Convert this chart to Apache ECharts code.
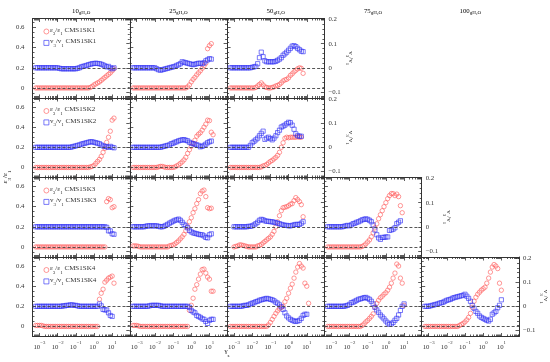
<!DOCTYPE html>
<html><head><meta charset="utf-8">
<script src="https://cdn.jsdelivr.net/npm/echarts@6/dist/echarts.min.js"></script>
<style>html,body{margin:0;padding:0;background:#fff}#c{width:550px;height:362px}</style>
</head><body><div id="c"></div>
<script>
// ---------- data ----------
const GAMMA = [0.0005, 0.00063, 0.00079, 0.001,
  0.00126, 0.00158, 0.002, 0.0025, 0.00316, 0.00398, 0.005, 0.0063, 0.0079, 0.01,
  0.0126, 0.0158, 0.02, 0.025, 0.0316, 0.0398, 0.05, 0.063, 0.079, 0.1,
  0.126, 0.158, 0.2, 0.25, 0.316, 0.398, 0.5, 0.63, 0.79, 1,
  1.26, 1.58, 2, 2.5, 3.16, 3.98, 5, 6.3, 7.9, 10,
  12.6, 15.8];
const COLUMNS = ['10', '25', '50', '75', '100'];
const SAMPLES = ['CMS1SK1', 'CMS1SK2', 'CMS1SK3', 'CMS1SK4'];
const X_TICKS = [0.001, 0.01, 0.1, 1, 10];
const Y_LEFT_TICKS = [0, 0.2, 0.4, 0.6];
const Y_RIGHT_TICKS = [-0.1, 0, 0.1, 0.2];
const REF_LINES = [0, 0.2];

// eps3/eps1 (left axis) and v3/v1 (right axis)
const EPS_SK1_10 = [null,0,0,0, 0,0,0,0,0,0,0,0,0,0, 0,0,0,0,0,0,0,0,0,0, 0,0,0,0,0,0,0,0.005,0.015,0.03, 0.04,0.05,0.06,0.075,0.09,0.105,0.12,0.135,0.15,0.17, 0.19,null];
const V_SK1_10 = [null,0,0,0, 0,0,0,0,0,0,0,0,0,0, -0.002,-0.004,-0.004,-0.004,-0.004,-0.004,-0.004,-0.004,-0.004,-0.004, -0.002,0,0.004,0.006,0.008,0.010,0.013,0.015,0.017,0.018, 0.019,0.018,0.017,0.015,0.012,0.008,0.004,0.006,0,-0.004, 0,null];
const EPS_SK1_25 = [null,0,0,0, 0,0,0,0,0,0,0,0,0,0, 0,0,0,0,0,0,0,0,0,0, 0,0,0,0,0,0,0,0.01,0.03,0.06, 0.085,0.105,0.13,0.15,0.17,0.195,0.22,0.245,0.39,0.42, 0.44,null];
const V_SK1_25 = [null,0,0,0, 0,0,0,0,0,0,0,0,0,0, -0.004,-0.008,-0.010,-0.008,-0.006,-0.004,-0.002,0,0.002,0.004, 0.006,0.010,0.013,0.017,0.025,0.023,0.021,0.019,0.017,0.015, 0.013,0.015,0.017,0.019,0.019,0.017,0.021,0.029,0.033,0.038, 0.036,null];
const EPS_SK1_50 = [null,0,0,0, 0,0,0,0,0,0,0,0,0,0, 0,0.005,0.02,0.035,0.05,0.03,0.01,0.005,0,0, 0.005,0.01,0.02,0.025,0.035,0.05,0.07,0.08,0.085,0.1, 0.125,0.14,0.16,0.175,0.19,0.2,0.195,0.145,null,null, null,null];
const V_SK1_50 = [null,0,0,0, 0,0,0,0,0,0,0,0,0,0.002, 0.004,0.006,0.017,0.042,0.065,0.046,0.029,0.025,0.025,0.025, 0.025,0.025,0.027,0.031,0.036,0.042,0.052,0.058,0.065,0.073, 0.081,0.090,0.092,0.088,0.081,0.075,0.069,0.067,null,null, null,null];

const EPS_SK2_10 = [null,0,0,0, 0,0,0,0,0,0,0,0,0,0, 0,0,0,0,0,0,0,0,0,0, 0,0,0,0,0,0,0,0.005,0.01,0.02, 0.04,0.06,0.08,0.11,0.15,0.19,0.25,0.3,0.36,0.47, 0.49,null];
const V_SK2_10 = [null,0,0,0, 0,0,0,0,0,0,0,0,0,0, 0,0,0,0,0,0,0,0.002,0.004,0.006, 0.008,0.010,0.013,0.015,0.017,0.019,0.021,0.023,0.023,0.021, 0.019,0.017,0.015,0.010,0.006,0.004,0.002,0,0.004,0, -0.002,null];
const EPS_SK2_25 = [null,0,0,0, 0,0,0,0,0,0,0,0,0,0, 0,0.005,0.01,0.01,0.005,0,0,0,0,0, 0.005,0.015,0.025,0.04,0.055,0.075,0.1,0.14,0.175,0.21, 0.24,0.27,0.31,0.33,0.345,0.37,0.4,0.43,0.47,0.465, 0.35,0.325];
const V_SK2_25 = [null,0,0,0, 0,0,0,0,0,0,0,0,0,0, 0,0,0,0.002,0.004,0.006,0.008,0.010,0.015,0.017, 0.021,0.023,0.027,0.029,0.031,0.032,0.029,0.027,0.021,0.017, 0.015,0.013,0.010,0.008,0.002,0.004,0.008,0.013,0.019,0.023, 0.026,null];
const EPS_SK2_50 = [null,0,0,0, 0,0,0,0,0,0,0,0,0,0, 0,0,0,0,0.005,0.015,0.02,0.03,0.045,0.06, 0.07,0.085,0.1,0.12,0.15,0.2,0.245,0.29,0.3,0.295, 0.3,0.3,0.3,0.3,0.305,0.3,0.3,null,null,null, null,null];
const V_SK2_50 = [null,0,0,0, 0,0,0,0,0,0,0,0,0.008,0.019, 0.025,0.031,0.038,0.048,0.058,0.067,0.033,0.038,0.042,0.036, 0.031,0.038,0.048,0.061,0.071,0.084,0.088,0.092,0.098,0.104, 0.102,0.092,0.075,0.056,0.048,0.046,0.046,null,null,null, null,null];

const EPS_SK3_10 = [null,0,0,0, 0,0,0,0,0,0,0,0,0,0, 0,0,0,0,0,0,0,0,0,0, 0,0,0,0,0,0,0,0,0,0, 0,0,0,0,0,0,0.45,0.48,0.47,0.39, 0.4,null];
const V_SK3_10 = [null,0,0,0, 0,0,0,0,0,0,0,0,0,0, 0,0,0,0,0,0,0,0,0,0, 0,0,0,0,0,0,0,0,0,0, 0,0,0,0,0,0,-0.002,-0.017,-0.017,-0.029, -0.031,null];
const EPS_SK3_25 = [null,0.01,0.01,0.01, 0.005,0,0,0,0,0,0,0,0,0, 0,0,0,0,0,0,0,0.01,0.015,0.02, 0.03,0.045,0.06,0.08,0.1,0.125,0.16,0.2,0.25,0.29, 0.34,0.38,0.43,0.47,0.53,0.555,0.565,0.5,0.39,0.38, 0.385,null];
const V_SK3_25 = [null,0,0,0, 0,0,0,0,0.002,0.004,0.004,0.004,0.004,0.004, 0.004,0.002,0,0,0.002,0.006,0.010,0.015,0.019,0.023, 0.027,0.029,0.032,0.027,0.019,0.010,0.004,-0.004,-0.015,-0.021, -0.025,-0.027,-0.029,-0.031,-0.033,-0.033,-0.038,-0.044,-0.046,-0.033, -0.029,null];
const EPS_SK3_50 = [null,null,null,0, 0.005,0.01,0.02,0.02,0.015,0.01,0.005,0,0,0, 0,0,0.01,0.015,0.025,0.04,0.055,0.07,0.085,0.1, 0.125,0.155,0.2,0.25,0.31,0.36,0.39,0.395,0.4,0.41, 0.425,0.43,0.46,0.49,0.47,0.45,0.42,0.3,null,null, null,null];
const V_SK3_50 = [null,null,null,0, 0,0,0,0,0,0,0,0.002,0.002,0.004, 0.008,0.013,0.019,0.027,0.031,0.029,0.025,0.023,0.023,0.021, 0.021,0.019,0.017,0.015,0.013,0.010,0.008,0.006,0.006,0.004, 0.004,0.006,0.008,0.010,0.010,0.010,0.015,0.021,null,null, null,null];
const EPS_SK3_75 = [null,0,0,0, 0,0,0,0,0,0,0,0,0,0, 0,0,0,0,0,0,0.005,0.015,0.03,0.05, 0.07,0.1,0.14,0.19,0.23,0.28,0.32,0.36,0.4,0.44, 0.48,0.51,0.53,0.53,0.51,0.525,0.5,0.41,0.34,null, null,null];
const V_SK3_75 = [null,0,0,0, 0,0,0,0,0,0,0.002,0.004,0.006,0.004, 0.008,0.013,0.015,0.019,0.021,0.025,0.029,0.031,0.033,0.031, 0.027,0.021,0.008,-0.013,-0.033,-0.046,-0.052,-0.044,-0.044,-0.042, -0.042,-0.015,-0.013,-0.010,-0.004,0.013,0.019,0.025,null,null, null,null];

const EPS_SK4_10 = [null,0.01,0.01,0.01, 0.01,0.005,0,0,0,0,0,0,0,0, 0,0,0,0,0,0,0,0,0,0, 0,0,0,0,0,0,0,0,0,0, 0,0,0.27,0.33,0.37,0.44,0.46,0.48,0.49,0.5, 0.43,null];
const V_SK4_10 = [null,0,0,0, 0,0,0,0,0,0,0,0,0,0, 0,0,0.002,0.002,0.004,0.004,0.006,0.006,0.004,0.004, 0.002,0,0,0,0,0,0,0,0,0, 0,0,0.010,0.002,-0.013,-0.015,-0.015,-0.027,-0.038,-0.042, null,null];
const EPS_SK4_25 = [null,0.01,0.01,0.01, 0.005,0,0,0,0,0,0,0,0,0, 0,0,0,0,0,0,0,0,0,0, 0,0,0,0,0,0,0,0,0.16,0.21, 0.28,0.37,0.415,0.47,0.52,0.565,0.57,0.53,0.49,0.47, 0.35,0.35];
const V_SK4_25 = [null,0,0,0, 0,0,0,0,0,0,0.002,0.004,0.004,0.004, 0.004,0.004,0.002,0,0,0,0,0,0,0, 0,0,0,0,0,0,0,0,-0.004,-0.017, -0.023,-0.027,-0.038,-0.042,-0.046,-0.052,-0.054,-0.063,-0.071,-0.058, -0.054,-0.054];
const EPS_SK4_50 = [null,0,0,0, 0,0,0,0,0,0,0,0,0,0, 0,0,0,0,0,0,0,0,0.015,0.04, 0.07,0.1,0.13,0.155,0.175,0.19,0.2,0.245,0.28,0.33, 0.38,0.42,0.48,0.54,0.59,0.625,0.6,0.58,0.43,0.4, 0.23,null];
const V_SK4_50 = [null,0,0,0, 0,0,0,0,0.002,0.004,0.004,0.006,0.010,0.013, 0.015,0.019,0.021,0.025,0.027,0.029,0.031,0.033,0.031,0.029, 0.027,0.023,0.017,0.013,0.006,-0.002,-0.013,-0.027,-0.040,-0.048, -0.054,-0.058,-0.061,-0.063,-0.061,-0.058,-0.050,-0.038,-0.033,-0.033, null,null];
const EPS_SK4_75 = [null,0,0,0, 0,0,0,0,0,0,0,0,0,0, 0,0,0,0,0,0,0.01,0.025,0.045,0.06, 0.08,0.1,0.125,0.19,0.23,0.26,0.285,0.3,0.32,0.335, 0.36,0.39,0.43,0.48,0.53,0.62,0.6,0.48,0.43,0.21, null,null];
const V_SK4_75 = [null,0,0,0, 0,0,0,0,0,0,0,0.002,0.004,0.008, 0.015,0.017,0.021,0.025,0.029,0.031,0.033,0.036,0.037,0.033, 0.029,0.021,0.010,-0.004,-0.015,-0.025,-0.036,-0.044,-0.052,-0.061, -0.069,-0.075,-0.073,-0.067,-0.058,-0.050,-0.036,-0.017,0,0.010, null,null];
const EPS_SK4_100 = [null,0,0,0, 0,0,0,0,0,0,0,0,0,0, 0,0,0,0,0,0,0.01,0.02,0.03,0.045, 0.065,0.09,0.13,0.19,0.25,0.29,0.32,0.34,0.36,0.375, 0.39,0.43,0.48,0.54,0.59,0.615,0.6,0.575,0.43,0.36, null,null];
const V_SK4_100 = [null,0,0,0, 0.002,0.004,0.006,0.008,0.010,0.013,0.015,0.017,0.021,0.025, 0.027,0.029,0.033,0.036,0.038,0.040,0.042,0.044,0.046,0.050, 0.042,0.033,0.021,0.004,-0.008,-0.021,-0.029,-0.040,-0.046,-0.050, -0.054,-0.058,-0.061,-0.054,-0.033,-0.027,-0.021,-0.006,0.004,0.027, null,null];

const PANELS = [
  {row:0, col:0, eps:EPS_SK1_10, v:V_SK1_10},
  {row:0, col:1, eps:EPS_SK1_25, v:V_SK1_25},
  {row:0, col:2, eps:EPS_SK1_50, v:V_SK1_50},
  {row:1, col:0, eps:EPS_SK2_10, v:V_SK2_10},
  {row:1, col:1, eps:EPS_SK2_25, v:V_SK2_25},
  {row:1, col:2, eps:EPS_SK2_50, v:V_SK2_50},
  {row:2, col:0, eps:EPS_SK3_10, v:V_SK3_10},
  {row:2, col:1, eps:EPS_SK3_25, v:V_SK3_25},
  {row:2, col:2, eps:EPS_SK3_50, v:V_SK3_50},
  {row:2, col:3, eps:EPS_SK3_75, v:V_SK3_75},
  {row:3, col:0, eps:EPS_SK4_10, v:V_SK4_10},
  {row:3, col:1, eps:EPS_SK4_25, v:V_SK4_25},
  {row:3, col:2, eps:EPS_SK4_50, v:V_SK4_50},
  {row:3, col:3, eps:EPS_SK4_75, v:V_SK4_75},
  {row:3, col:4, eps:EPS_SK4_100, v:V_SK4_100}
];

// ---------- layout / style ----------
const FONT = 'Liberation Serif';
const RED = '#ff5c5c', BLUE = '#2f2ff4', INK = '#333333';
const COL_LEFT = [32.5, 129.8, 227.1, 324.4, 421.7];
const ROW_TOP = [18.5, 98, 177.5, 257];
const PW = 97.3, PH = 79.5;
const X_RANGE = [0.000417, 93.3];
const YL_RANGE = [-0.1, 0.69];
const YR_RANGE = [-0.1253, 0.2047];
const LAST_COL = [2, 2, 3, 4];

const xMinor = [];
for (let e = -4; e <= 1; e++) for (let m = 2; m <= 9; m++) {
  const t = +(m * Math.pow(10, e)).toPrecision(3);
  if (t > X_RANGE[0] && t < X_RANGE[1]) xMinor.push(t);
}
const ylMinor = [];
for (let i = -2; i <= 13; i++) { const t = +(i * 0.05).toFixed(2); if (i % 4 !== 0) ylMinor.push(t); }
const yrMinor = [];
for (let i = -6; i <= 10; i++) { const t = +(i * 0.02).toFixed(2); if (i % 5 !== 0) yrMinor.push(t); }

const txt = (size, extra) => Object.assign({fontFamily: FONT, fontSize: size, color: INK}, extra || {});
const RICH = {
  g: txt(7, {lineHeight: 10, verticalAlign: 'top'}),
  sub: txt(5, {lineHeight: 4, verticalAlign: 'bottom'}),
  b: txt(6.8, {lineHeight: 10, verticalAlign: 'bottom'}),
  sup: txt(4.8, {lineHeight: 4, verticalAlign: 'top'})
};
const line = {show: true, onZero: false, lineStyle: {color: INK, width: 1}};
const noLine = {show: false, onZero: false};
const TICK_FONT = {fontFamily: FONT, fontSize: 6.8, color: INK};

const grids = [], xAxes = [], yAxes = [], series = [];
PANELS.forEach((p, k) => {
  grids.push({left: COL_LEFT[p.col], top: ROW_TOP[p.row], width: PW, height: PH, show: false, outerBoundsMode: 'none'});
  const bottomRow = p.row === 3;
  const isLast = LAST_COL[p.row] === p.col;
  ['bottom', 'top'].forEach(pos => {
    [true, false].forEach(major => {
      xAxes.push({
        gridIndex: k, type: 'log', logBase: 10, min: X_RANGE[0], max: X_RANGE[1], position: pos,
        axisLine: major ? line : noLine,
        axisTick: {show: true, inside: true, length: major ? 3.5 : 2, customValues: major ? X_TICKS : xMinor, lineStyle: {color: INK, width: 0.8}},
        axisLabel: {show: major && pos === 'bottom' && bottomRow, customValues: X_TICKS, margin: 4,
          formatter: v => { const e = Math.round(Math.log10(v)); return '{b|10}{sup|' + (e < 0 ? '−' + (-e) : e) + '}'; },
          rich: RICH},
        splitLine: {show: false}, silent: true
      });
    });
  });
  [true, false].forEach(major => {
    yAxes.push({
      gridIndex: k, type: 'value', min: YL_RANGE[0], max: YL_RANGE[1], position: 'left',
      axisLine: major ? line : noLine,
      axisTick: {show: true, inside: true, length: major ? 3.5 : 2, customValues: major ? Y_LEFT_TICKS : ylMinor, lineStyle: {color: INK, width: 0.8}},
      axisLabel: Object.assign({show: major && p.col === 0, customValues: Y_LEFT_TICKS, margin: 8,
        formatter: v => String(v)}, TICK_FONT),
      splitLine: {show: false}, silent: true
    });
  });
  [true, false].forEach(major => {
    const ax = {
      gridIndex: k, type: 'value', min: YR_RANGE[0], max: YR_RANGE[1], position: 'right',
      axisLine: major ? line : noLine,
      axisTick: {show: true, inside: true, length: major ? 3.5 : 2, customValues: major ? Y_RIGHT_TICKS : yrMinor, lineStyle: {color: INK, width: 0.8}},
      axisLabel: Object.assign({show: major && isLast, customValues: Y_RIGHT_TICKS, margin: 4,
        formatter: v => v < 0 ? '−' + Math.abs(v) : String(v)}, TICK_FONT),
      splitLine: {show: false}, silent: true
    };
    if (major && isLast) {
      ax.name = '{g|v}{sub|3}{g|/v}{sub|1}';
      ax.nameLocation = 'middle'; ax.nameRotate = -90; ax.nameGap = 14;
      ax.nameTextStyle = {rich: RICH};
    }
    yAxes.push(ax);
  });
  const pairs = arr => GAMMA.map((g, i) => arr[i] == null ? null : [g, arr[i]]).filter(d => d);
  series.push({
    type: 'scatter', name: 'ε3/ε1 ' + SAMPLES[p.row], xAxisIndex: 4 * k, yAxisIndex: 4 * k,
    symbol: 'circle', symbolSize: 4.4, data: pairs(p.eps),
    itemStyle: {color: 'rgba(255,255,255,0)', borderColor: RED, borderWidth: 0.8},
    emphasis: {disabled: true}, silent: true,
    markLine: {silent: true, symbol: 'none', animation: false, label: {show: false},
      lineStyle: {color: '#444', type: [3, 2], width: 0.9},
      data: REF_LINES.map(y => ({yAxis: y}))}
  });
  series.push({
    type: 'scatter', name: 'v3/v1 ' + SAMPLES[p.row], xAxisIndex: 4 * k, yAxisIndex: 4 * k + 2,
    symbol: 'rect', symbolSize: 4.2, data: pairs(p.v),
    itemStyle: {color: 'rgba(255,255,255,0)', borderColor: BLUE, borderWidth: 0.8},
    emphasis: {disabled: true}, silent: true
  });
});

const legendFmt = name => {
  const parts = name.split(' ');
  const c = parts[0][0];
  return '{g|' + c + '}{sub|3}{g|/' + c + '}{sub|1}{g| ' + parts[1] + '}';
};
const legends = ROW_TOP.map((t, r) => ({
  orient: 'vertical', left: COL_LEFT[0] + 6, top: t + 3, itemWidth: 5, itemHeight: 5, itemGap: 1.4,
  selectedMode: false, data: ['ε3/ε1 ' + SAMPLES[r], 'v3/v1 ' + SAMPLES[r]],
  formatter: legendFmt, itemStyle: {borderWidth: 0.8},
  textStyle: {fontFamily: FONT, fontSize: 7, color: INK, rich: RICH, padding: [0, 0, 0, -4]}
}));

const graphics = COLUMNS.map((c, i) => ({
  type: 'text', x: COL_LEFT[i] + PW / 2, y: 10, silent: true,
  style: {text: '{b|' + c + '}{sub|gH₂O}', rich: RICH, align: 'center', verticalAlign: 'middle', textAlign: 'center', textVerticalAlign: 'middle'}
}));
graphics.push({type: 'text', x: 7, y: 177, rotation: Math.PI / 2, silent: true,
  style: {text: '{g|ε}{sub|3}{g|/ε}{sub|1}', rich: RICH, align: 'center', verticalAlign: 'middle', textAlign: 'center', textVerticalAlign: 'middle'}});
graphics.push({type: 'text', x: 227, y: 353, silent: true,
  style: {text: '{g|γ}{sub|s}', rich: RICH, align: 'center', verticalAlign: 'middle', textAlign: 'center', textVerticalAlign: 'middle'}});

const chart = echarts.init(document.getElementById('c'), null, {renderer: 'canvas'});
chart.setOption({
  animation: false,
  backgroundColor: '#fff',
  grid: grids, xAxis: xAxes, yAxis: yAxes, series: series,
  legend: legends, graphic: graphics
});
</script></body></html>
